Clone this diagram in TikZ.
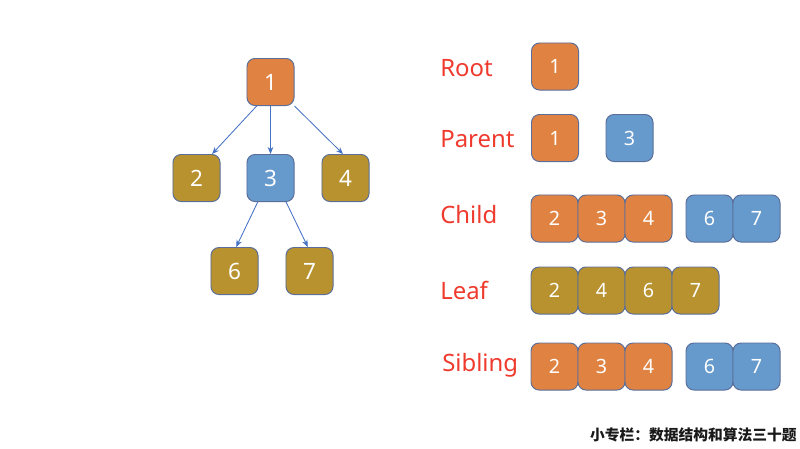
\documentclass[tikz,border=0pt]{standalone}
\usepackage{fontspec}
\setmainfont{Noto Sans}
\newfontfamily\cjk{Noto Sans CJK SC}
\usetikzlibrary{arrows.meta}

\definecolor{rootorange}{HTML}{E08342}
\definecolor{leafolive}{HTML}{B8922F}
\definecolor{midblue}{HTML}{6699CC}
\definecolor{boxline}{HTML}{5A6E99}
\definecolor{arrowblue}{HTML}{4472C4}
\definecolor{termred}{HTML}{EE3B2E}

\tikzset{
  box/.style={draw=boxline, line width=0.7pt, rounded corners=0.2cm,
    minimum width=1.175cm, minimum height=1.175cm, inner sep=0pt,
    text=white, font=\fontsize{14}{14}\selectfont},
  treebox/.style={box, font=\fontsize{16}{16}\selectfont},
  term/.style={anchor=west, inner sep=0pt, text=termred,
    font=\fontsize{17}{17}\selectfont},
  edge/.style={draw=arrowblue, line width=0.6pt,
    -{Stealth[length=5pt,width=4pt]}}
}

\begin{document}
\begin{tikzpicture}[x=0.025cm,y=-0.025cm]
  \useasboundingbox (0,0) rectangle (800,448);

  % the tree
  \node[treebox,fill=rootorange] (n1) at (270.5,82) {1};
  \node[treebox,fill=leafolive] (n2) at (196.5,178) {2};
  \node[treebox,fill=midblue] (n3) at (270.5,178) {3};
  \node[treebox,fill=leafolive] (n4) at (345.5,178) {4};
  \node[treebox,fill=leafolive] (n6) at (234.5,271) {6};
  \node[treebox,fill=leafolive] (n7) at (309.5,271) {7};

  \draw[edge] (n1.240) -- (n2.57);
  \draw[edge] (n1.south) -- (n3.north);
  \draw[edge] (n1.south east) -- (n4.96);
  \draw[edge] (n3.242) -- (n6.86);
  \draw[edge] (n3.303) -- (n7.94);

  % terms
  \node[term] (root) at (440,68) {Root};
  \node[term] (parent) at (440,139) {Parent};
  \node[term] (child) at (440,215) {Child};
  \node[term] (leaf) at (440,290) {Leaf};
  \node[term] (sibling) at (442,365) {Sibling};

  % Root, Parent
  \node[box,fill=rootorange] (r1) at (555,66.5) {1};
  \node[box,fill=rootorange] (p1) at (555,138) {1};
  \node[box,fill=midblue] (p3) at (629.5,138) {3};

  % Child
  \foreach \d [count=\i] in {2,3,4}
    \node[box,fill=rootorange] (c\i) at (507.5+47*\i,218.5) {\d};
  \foreach \d [count=\i] in {6,7}
    \node[box,fill=midblue] (cb\i) at (662.5+47*\i,218.5) {\d};

  % Leaf
  \foreach \d [count=\i] in {2,4,6,7}
    \node[box,fill=leafolive] (l\i) at (507.5+47*\i,290.5) {\d};

  % Sibling
  \foreach \d [count=\i] in {2,3,4}
    \node[box,fill=rootorange] (s\i) at (507.5+47*\i,366.5) {\d};
  \foreach \d [count=\i] in {6,7}
    \node[box,fill=midblue] (sb\i) at (662.5+47*\i,366.5) {\d};

  % footer
  \node[anchor=east, inner sep=0pt, text=black!90,
    font=\cjk\bfseries\fontsize{10.5}{10.5}\selectfont] (footer) at (797,435)
    {小专栏：数据结构和算法三十题};
\end{tikzpicture}
\end{document}
